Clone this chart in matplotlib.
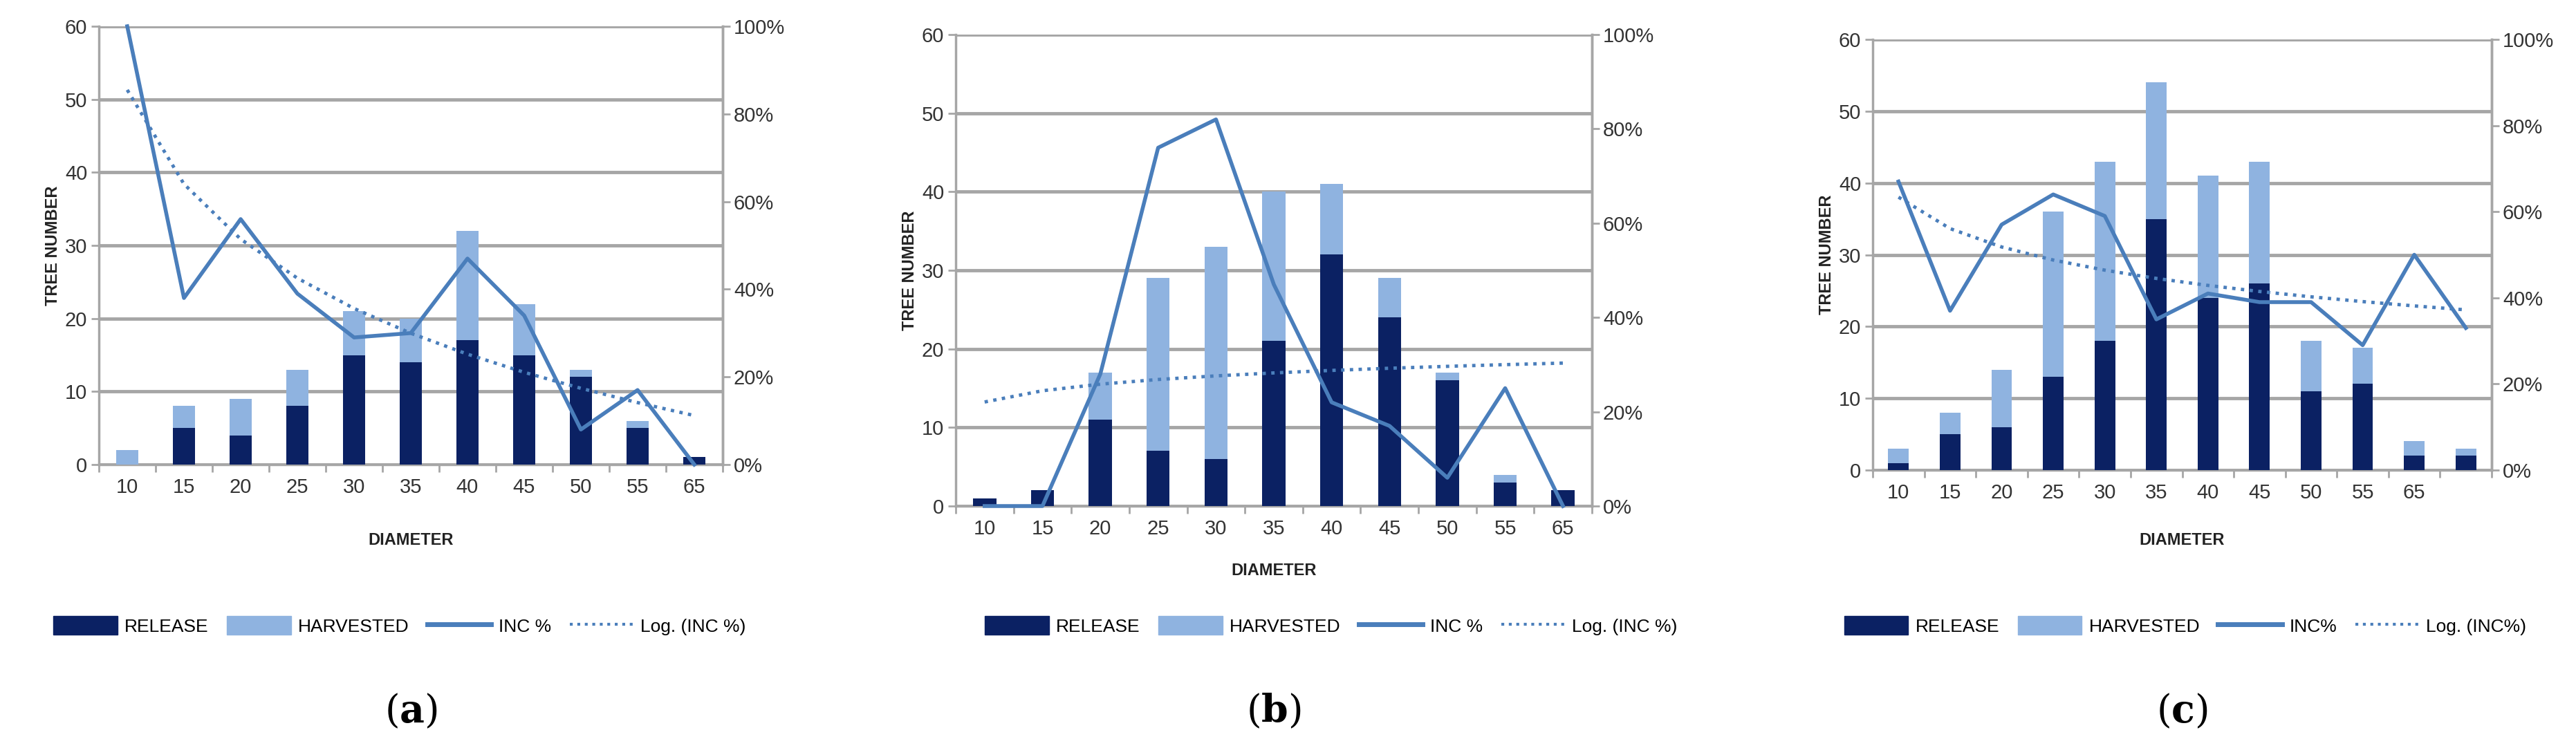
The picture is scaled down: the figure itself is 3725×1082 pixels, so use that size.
import numpy as np
import matplotlib
matplotlib.use("Agg")
import matplotlib.pyplot as plt
from matplotlib.lines import Line2D
from matplotlib.patches import Patch
from matplotlib.ticker import FixedLocator, PercentFormatter

plt.rcParams['font.family'] = ['Liberation Sans Narrow', 'Liberation Sans', 'DejaVu Sans']
plt.rcParams['mathtext.fontset'] = 'dejavuserif'

labels_a = ["10", "15", "20", "25", "30", "35", "40", "45", "50", "55", "65"]
release_a = [0, 5, 4, 8, 15, 14, 17, 15, 12, 5, 1]
total_a = [2, 8, 9, 13, 21, 20, 32, 22, 13, 6, 1]
inc_a = [100, 38, 56, 39, 29, 30, 47, 34, 8, 17, 0]

labels_b = ["10", "15", "20", "25", "30", "35", "40", "45", "50", "55", "65"]
release_b = [1, 2, 11, 7, 6, 21, 32, 24, 16, 3, 2]
total_b = [1, 2, 17, 29, 33, 40, 41, 29, 17, 4, 2]
inc_b = [0, 0, 28, 76, 82, 47, 22, 17, 6, 25, 0]

labels_c = ["10", "15", "20", "25", "30", "35", "40", "45", "50", "55", "65", ""]
release_c = [1, 5, 6, 13, 18, 35, 24, 26, 11, 12, 2, 2]
total_c = [3, 8, 14, 36, 43, 54, 41, 43, 18, 17, 4, 3]
inc_c = [67, 37, 57, 64, 59, 35, 41, 39, 39, 29, 50, 33]

DARK = "#0b2163"
LIGHT = "#8fb3e0"
LINE = "#4a7ebb"
GRID = "#a6a6a6"
W, H = 3725, 1082

fig = plt.figure(figsize=(W / 100, H / 100), dpi=100)

panels = [
    dict(lab=labels_a, rel=release_a, tot=total_a, inc=inc_a, box=(143, 38, 1045, 672),
         xl_y=781, leg_cx=578, inc_name="INC %", log_name="Log. (INC %)", cap="a"),
    dict(lab=labels_b, rel=release_b, tot=total_b, inc=inc_b, box=(1382, 50, 2302, 732),
         xl_y=825, leg_cx=1925, inc_name="INC %", log_name="Log. (INC %)", cap="b"),
    dict(lab=labels_c, rel=release_c, tot=total_c, inc=inc_c, box=(2708, 57, 3603, 680),
         xl_y=781, leg_cx=3160, inc_name="INC%", log_name="Log. (INC%)", cap="c"),
]

for p in panels:
    x0, y0, x1, y1 = p["box"]
    ax = fig.add_axes([x0 / W, 1 - y1 / H, (x1 - x0) / W, (y1 - y0) / H])
    n = len(p["lab"])
    x = np.arange(n)
    rel = np.array(p["rel"])
    harv = np.array(p["tot"]) - rel
    ax.bar(x, rel, width=0.4, color=DARK, zorder=3)
    ax.bar(x, harv, width=0.4, bottom=rel, color=LIGHT, zorder=3)
    ax.set_xlim(-0.5, n - 0.5)
    ax.set_ylim(0, 60)
    ax.set_yticks(range(0, 61, 10))
    ax.grid(axis='y', color=GRID, linewidth=3.5, zorder=0)
    ax.set_xticks(x)
    ax.set_xticklabels(p["lab"], fontsize=21, color="#333333")
    ax.xaxis.set_minor_locator(FixedLocator(np.arange(-0.5, n, 1)))
    ax.tick_params(axis='x', which='major', length=0, pad=14)
    ax.tick_params(axis='x', which='minor', length=8, width=2, color=GRID, direction='out')
    ax.tick_params(axis='y', length=8, width=2, color=GRID, labelsize=21, labelcolor="#333333", pad=4)
    ax.spines["top"].set_visible(False)
    for s in ["left", "right", "bottom"]:
        ax.spines[s].set_color(GRID)
        ax.spines[s].set_linewidth(2.5)
    ax.set_ylabel("TREE NUMBER", fontsize=17, fontweight="bold", color="#222222",
                  family=['Liberation Sans', 'DejaVu Sans'])
    cx = (x0 + x1) / 2
    fig.text(cx / W, 1 - p["xl_y"] / H, "DIAMETER", ha="center", va="center",
             fontsize=17, fontweight="bold", color="#222222", family=['Liberation Sans', 'DejaVu Sans'])

    ax2 = ax.twinx()
    inc = np.array(p["inc"]) / 100.0
    ax2.plot(x, inc, color=LINE, linewidth=4, zorder=4, clip_on=False)
    # logarithmic trendline (Excel-style, x = 1..n)
    xi = x + 1
    b, a = np.polyfit(np.log(xi), inc, 1)
    ax2.plot(x, a + b * np.log(xi), color=LINE, linewidth=3.5, linestyle=(0, (1, 1.6)), zorder=4)
    ax2.set_ylim(0, 1)
    ax2.set_yticks(np.arange(0, 1.01, 0.2))
    ax2.yaxis.set_major_formatter(PercentFormatter(1.0, decimals=0))
    ax2.tick_params(axis='y', length=8, width=2, color=GRID, labelsize=21, labelcolor="#333333")
    for s in ["top", "left", "bottom"]:
        ax2.spines[s].set_visible(False)
    ax2.spines["right"].set_color(GRID)
    ax2.spines["right"].set_linewidth(2.5)

    handles = [Patch(color=DARK), Patch(color=LIGHT),
               Line2D([], [], color=LINE, linewidth=5),
               Line2D([], [], color=LINE, linewidth=3, linestyle=(0, (1, 1.6)))]
    names = ["RELEASE", "HARVESTED", p["inc_name"], p["log_name"]]
    fig.legend(handles, names, loc="center", bbox_to_anchor=(p["leg_cx"] / W, 1 - 905 / H),
               ncol=4, frameon=False, fontsize=19, handlelength=3.5, handleheight=1.2,
               columnspacing=1.0, handletextpad=0.4)
    fig.text(cx / W, 1 - 1029 / H, r"($\mathbf{%s}$)" % p["cap"], ha="center", va="center",
             fontsize=40, family="DejaVu Serif")

fig.savefig("out.png", dpi=100)
